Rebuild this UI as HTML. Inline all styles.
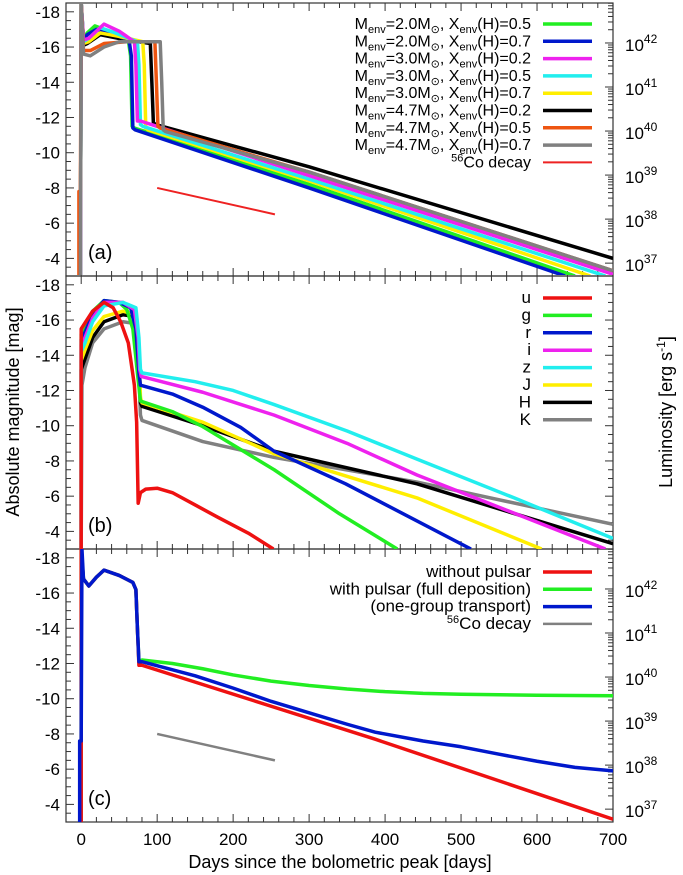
<!DOCTYPE html>
<html><head><meta charset="utf-8"><style>
html,body{margin:0;padding:0;background:#fff;}
svg{display:block;font-family:"Liberation Sans",sans-serif;}
</style></head><body>
<svg id="chart" width="683" height="875" viewBox="0 0 683 875" xmlns="http://www.w3.org/2000/svg">
<defs>
<clipPath id="clipA"><rect x="66" y="3" width="547" height="272"/></clipPath>
<clipPath id="clipB"><rect x="66" y="276" width="547" height="273"/></clipPath>
<clipPath id="clipC"><rect x="66" y="549" width="547" height="273"/></clipPath>
</defs>
<g id="layer"></g>
<text transform="translate(19,412) rotate(-90)" text-anchor="middle" font-size="18">Absolute magnitude [mag]</text>
<text transform="translate(672,412) rotate(-90)" text-anchor="middle" font-size="18">Luminosity [erg s<tspan dy="-7" font-size="12">-1</tspan><tspan dy="7">]</tspan></text>
<text x="340" y="868" text-anchor="middle" font-size="18">Days since the bolometric peak [days]</text>
</svg>
<script>
// ---- axis data ----
const xTicks = [0,100,200,300,400,500,600,700];
const yTicks = [-18,-16,-14,-12,-10,-8,-6,-4];
const lumExps = [37,38,39,40,41,42];
const coDecayDays = [100,255];
const coDecayMags = [-8,-6.5];

// ---- panel (a) series ----
const aGreen = [[-1,-3],[0,-18.5],[3,-16.5],[8,-16.8],[18,-17.2],[30,-17.0],[50,-16.6],[62,-16.4],[65,-15.5],[67,-11.5],[70,-11.4],[300,-8.2],[650,-3.0]];
const aBlue = [[-1,-3],[0,-18.5],[3,-16.4],[8,-16.7],[20,-17.0],[35,-16.8],[50,-16.6],[63,-16.4],[66,-15.5],[68,-11.4],[71,-11.3],[300,-8.0],[637,-3.0]];
const aMagenta = [[-1,-3],[0,-18.5],[3,-16.4],[10,-16.5],[30,-17.3],[50,-16.9],[70,-16.3],[72,-15],[74,-11.8],[78,-11.8],[300,-8.7],[700,-3.1]];
const aCyan = [[-1,-3],[0,-18.5],[3,-16.3],[10,-16.5],[25,-17.1],[45,-16.8],[74,-16.3],[76,-15],[78,-11.6],[81,-11.5],[300,-8.5],[690,-3.0]];
const aYellow = [[-1,-3],[0,-18.5],[3,-16.2],[10,-16.3],[25,-16.8],[50,-16.6],[81,-16.3],[83,-15],[85,-11.4],[88,-11.3],[300,-8.4],[670,-3.0]];
const aBlack = [[-1,-3],[0,-18.5],[3,-16.1],[8,-16.2],[25,-16.7],[60,-16.4],[91,-16.2],[93,-14],[95,-11.7],[98,-11.6],[300,-9.2],[700,-4.0]];
const aOrange = [[-3,-3],[-3,-7.8],[-1,-7.8],[0,-18.5],[3,-15.8],[12,-15.8],[30,-16.2],[60,-16.3],[97,-16.3],[99,-14],[101,-11.5],[104,-11.4],[300,-8.9],[700,-3.3]];
const aGray = [[-1,-3],[0,-18.5],[3,-15.6],[12,-15.5],[30,-16.0],[50,-16.3],[104,-16.3],[106,-14],[108,-11.3],[111,-11.2],[300,-8.9],[700,-3.3]];

// ---- panel (b) series ----
const bU = [[0,-3],[0,-15.5],[3,-15.7],[15,-16.5],[30,-17.0],[42,-16.7],[52,-15.9],[62,-14.7],[70,-12.3],[73,-10.2],[75,-5.6],[78,-6.2],[85,-6.4],[100,-6.45],[120,-6.2],[150,-5.5],[180,-4.8],[220,-3.9],[253,-3.0]];
const bG = [[0,-3],[0,-15.2],[5,-15.6],[15,-16.5],[30,-17.1],[50,-17.0],[60,-16.6],[68,-15.5],[74,-13],[78,-11.4],[120,-10.8],[160,-9.95],[254,-7.5],[340,-5.0],[416,-3.0]];
const bR = [[0,-3],[0,-14.9],[5,-15.3],[15,-16.3],[30,-17.1],[50,-17.0],[65,-16.7],[72,-15.5],[76,-13],[78,-12.3],[120,-11.8],[160,-11.05],[210,-9.9],[254,-8.55],[348,-6.7],[513,-3.0]];
const bI = [[0,-3],[0,-14.6],[5,-15.0],[15,-16.1],[30,-17.0],[55,-17.0],[70,-16.6],[75,-15],[77,-13.2],[79,-12.8],[160,-11.9],[254,-10.6],[350,-9.0],[442,-7.2],[560,-5.2],[690,-3.0]];
const bZ = [[0,-3],[0,-14.2],[5,-14.7],[15,-15.9],[30,-16.8],[55,-17.0],[72,-16.7],[76,-15],[78,-13.2],[80,-13.0],[150,-12.5],[200,-12.0],[254,-11.2],[350,-9.7],[442,-8.1],[570,-5.9],[700,-3.6]];
const bJ = [[0,-3],[0,-13.7],[5,-14.3],[15,-15.4],[30,-16.2],[55,-16.5],[72,-16.3],[76,-14.5],[78,-11.6],[80,-11.3],[160,-10.2],[254,-8.4],[442,-5.9],[606,-3.0]];
const bH = [[0,-3],[0,-13.2],[5,-13.8],[15,-15.0],[30,-15.9],[55,-16.3],[72,-16.2],[76,-14.5],[78,-11.3],[80,-11.1],[160,-10.0],[254,-8.55],[442,-6.7],[700,-3.3]];
const bK = [[0,-3],[1,-12.3],[5,-13.3],[15,-14.7],[30,-15.5],[55,-15.9],[72,-15.8],[76,-13],[78,-10.6],[80,-10.3],[160,-9.1],[254,-8.2],[442,-6.8],[700,-4.4]];

// ---- panel (c) series ----
const cRed = [[0,-3],[0,-18.5],[3,-16.8],[10,-16.4],[20,-16.9],[30,-17.3],[50,-17.0],[68,-16.6],[72,-16.2],[74,-14],[76,-11.9],[80,-11.9],[387,-7.7],[700,-3.16]];
const cGreen = [[0,-3],[0,-18.5],[3,-16.8],[10,-16.4],[20,-16.9],[30,-17.3],[50,-17.0],[68,-16.6],[72,-16.2],[74,-14],[76,-12.1],[80,-12.2],[120,-12.0],[160,-11.7],[200,-11.35],[250,-11.0],[300,-10.75],[350,-10.55],[400,-10.4],[450,-10.3],[500,-10.25],[600,-10.2],[700,-10.17]];
const cBlue = [[-2,-3],[-2,-7.6],[0,-7.6],[1,-18.5],[3,-16.8],[10,-16.4],[20,-16.9],[30,-17.3],[50,-17.0],[68,-16.6],[72,-16.2],[74,-14],[76,-12.1],[80,-12.1],[150,-11.3],[200,-10.6],[250,-9.85],[300,-9.2],[350,-8.55],[387,-8.1],[450,-7.6],[500,-7.27],[550,-6.85],[600,-6.45],[650,-6.1],[700,-5.9]];

const NS = "http://www.w3.org/2000/svg";
const layer = document.getElementById('layer');
const X0 = 66, X1 = 613, DMIN = -20, DMAX = 700;
const PH = 273;
function xS(d){ return X0 + (d - DMIN) * (X1 - X0) / (DMAX - DMIN); }
function yS(m, top){ return top + (m + 18.5) * PH / 15.5; }
function mk(tag, attrs, parent){
  const e = document.createElementNS(NS, tag);
  for (const k in attrs) e.setAttribute(k, attrs[k]);
  (parent || layer).appendChild(e);
  return e;
}
function line(pts, top, color, w, clip, name){
  const d = pts.map((p,i)=>(i?'L':'M')+xS(p[0]).toFixed(2)+' '+yS(p[1],top).toFixed(2)).join(' ');
  const p = mk('path', {d:d, fill:'none', stroke:color, 'stroke-width':w, 'stroke-linejoin':'round', 'clip-path':'url(#'+clip+')'});
  
  
}
function panel(top, clip, label, lumLabels, pname){
  const bot = top + PH;
  const g = mk('g', {});
  
  
  for (let d = 0; d <= 700; d += 20){
    const major = d % 100 === 0;
    const L = major ? 8 : 5;
    mk('line', {x1:xS(d), x2:xS(d), y1:top, y2:top+L, stroke:'#333', 'stroke-width':1}, g);
    mk('line', {x1:xS(d), x2:xS(d), y1:bot, y2:bot-L, stroke:'#333', 'stroke-width':1}, g);
  }
  for (let m = -18.5; m <= -3; m += 0.5){
    const major = Math.abs(m % 2) === 0;
    const L = major ? 8 : 5;
    mk('line', {x1:X0, x2:X0+L, y1:yS(m,top), y2:yS(m,top), stroke:'#333', 'stroke-width':1}, g);
    if (!lumLabels) mk('line', {x1:X1, x2:X1-L, y1:yS(m,top), y2:yS(m,top), stroke:'#333', 'stroke-width':1}, g);
  }
  yTicks.forEach(m=>{
    const t = mk('text', {x:60, y:yS(m,top)+6, 'text-anchor':'end', 'font-size':17}, g);
    t.textContent = m;
    
    
  });
  if (lumLabels){
    lumExps.forEach(e=>{
      const m0 = -16.23 + (42 - e) * 2.5;
      for (let k = 1; k <= 9; k++){
        const m = m0 - 2.5 * Math.log10(k);
        if (m < -18.5 || m > -3) continue;
        const L = k === 1 ? 8 : 5;
        mk('line', {x1:X1, x2:X1-L, y1:yS(m,top), y2:yS(m,top), stroke:'#333', 'stroke-width':1}, g);
      }
      const t = mk('text', {x:625, y:yS(m0,top)+8, 'font-size':17}, g);
      
      
      t.innerHTML = '10<tspan dy="-8" font-size="12">'+e+'</tspan>';
    });
  }
  const fr = mk('rect', {x:X0, y:top, width:X1-X0, height:PH, fill:'none', stroke:'#333', 'stroke-width':1.2}, g);
  
  
  const pl = mk('text', {x:88, y:bot-17, 'font-size':20}, g);
  pl.textContent = label;
  
  
}
panel(3, 'clipA', '(a)', true, 'panel-a');
panel(276, 'clipB', '(b)', false, 'panel-b');
panel(549, 'clipC', '(c)', true, 'panel-c');

xTicks.forEach(d=>{
  const t = mk('text', {x:xS(d), y:845, 'text-anchor':'middle', 'font-size':17});
  t.textContent = d;
  
  
});

const W = 3.5;
line(aBlack, 3, '#000', W, 'clipA', 'series-m47-x02');
line(aGreen, 3, '#22ee22', W, 'clipA', 'series-m20-x05');
line(aBlue, 3, '#0018cc', W, 'clipA', 'series-m20-x07');
line(aYellow, 3, '#ffee00', W, 'clipA', 'series-m30-x07');
line(aCyan, 3, '#22eeee', W, 'clipA', 'series-m30-x05');
line(aMagenta, 3, '#ee22ee', W, 'clipA', 'series-m30-x02');
line(aOrange, 3, '#ee5511', W, 'clipA', 'series-m47-x05');
line(aGray, 3, '#808080', W, 'clipA', 'series-m47-x07');
line(coDecayDays.map((d,i)=>[d,coDecayMags[i]]), 3, '#ee2222', 2, 'clipA', 'co-decay-line-a');
line(bK, 276, '#808080', W, 'clipB', 'series-K');
line(bH, 276, '#000', W, 'clipB', 'series-H');
line(bJ, 276, '#ffee00', W, 'clipB', 'series-J');
line(bG, 276, '#22ee22', W, 'clipB', 'series-g');
line(bR, 276, '#0018cc', W, 'clipB', 'series-r');
line(bI, 276, '#ee22ee', W, 'clipB', 'series-i');
line(bZ, 276, '#22eeee', W, 'clipB', 'series-z');
line(bU, 276, '#ee1111', W, 'clipB', 'series-u');
line(cGreen, 549, '#22ee22', W, 'clipC', 'series-with-pulsar');
line(cRed, 549, '#ee1111', W, 'clipC', 'series-without-pulsar');
line(cBlue, 549, '#0018cc', W, 'clipC', 'series-one-group');
line(coDecayDays.map((d,i)=>[d,coDecayMags[i]]), 549, '#808080', 2.5, 'clipC', 'co-decay-line-c');

function menv(m, x){
  return 'M<tspan dy="4" font-size="11">env</tspan><tspan dy="-4">='+m+'M</tspan><tspan dy="4" font-size="11">⊙</tspan><tspan dy="-4">, X</tspan><tspan dy="4" font-size="11">env</tspan><tspan dy="-4">(H)='+x+'</tspan>';
}
const legA = [[menv('2.0','0.5'),'#22ee22',3.5],[menv('2.0','0.7'),'#0018cc',3.5],[menv('3.0','0.2'),'#ee22ee',3.5],
[menv('3.0','0.5'),'#22eeee',3.5],[menv('3.0','0.7'),'#ffee00',3.5],[menv('4.7','0.2'),'#000',3.5],
[menv('4.7','0.5'),'#ee5511',3.5],[menv('4.7','0.7'),'#808080',3.5],
['<tspan dy="-6" font-size="11">56</tspan><tspan dy="6">Co decay</tspan>','#ee2222',2]];
const legB = [['u','#ee1111'],['g','#22ee22'],['r','#0018cc'],['i','#ee22ee'],['z','#22eeee'],['J','#ffee00'],['H','#000'],['K','#808080']];
const legC = [['without pulsar','#ee1111',3.5],['with pulsar (full deposition)','#22ee22',3.5],['(one-group transport)','#0018cc',3.5],['<tspan dy="-6" font-size="11">56</tspan><tspan dy="6">Co decay</tspan>','#808080',2.5]];
function legend(items, y0, dy, fs){
  items.forEach((it,i)=>{
    const y = y0 + i*dy;
    const t = mk('text', {x:531, y:y+5, 'text-anchor':'end', 'font-size':fs});
    t.innerHTML = it[0];
    
    
    const l = mk('line', {x1:543, x2:592, y1:y, y2:y, stroke:it[1], 'stroke-width':it[2]||3.5});
    
    
  });
}
legend(legA, 24, 17.3, 16);
legend(legB, 298, 17.4, 17);
legend(legC, 572, 17.3, 17);
</script>
</body></html>
